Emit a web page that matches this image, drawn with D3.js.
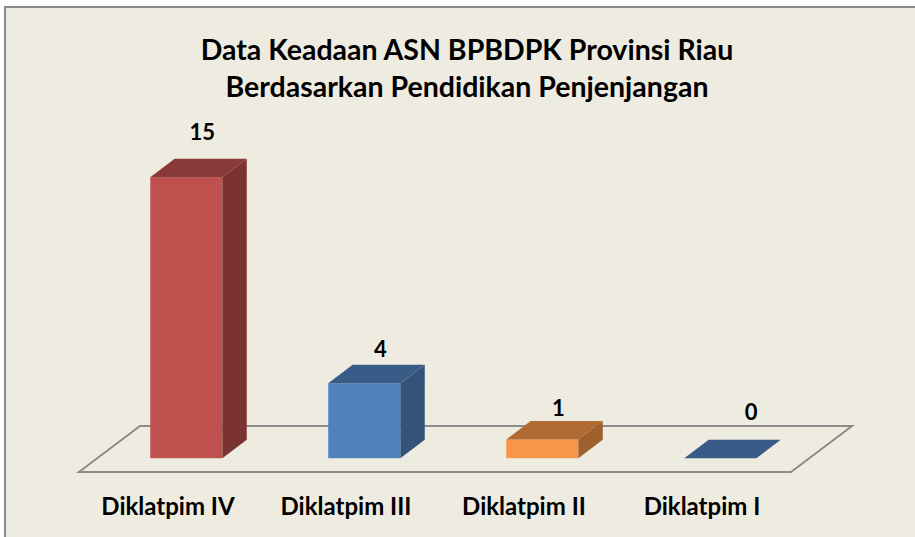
<!DOCTYPE html>
<html>
<head>
<meta charset="utf-8">
<script src="https://cdn.jsdelivr.net/npm/d3@7"></script>
<style>
  body{margin:0;background:#fff;}
  svg{display:block;}
</style>
</head>
<body>
<svg></svg>
<script>
// data
var categories=["Diklatpim IV","Diklatpim III","Diklatpim II","Diklatpim I"];
var values=[15,4,1,0];
var fronts=["#C0504D","#4F81BD","#F79646","#4F81BD"];
var titleLines=["Data Keadaan ASN BPBDPK Provinsi Riau","Berdasarkan Pendidikan Penjenjangan"];

var screen={width:915,height:537};
var svg=d3.select("svg")
          .attr("width",screen.width)
          .attr("height",screen.height)
var font="Lato, 'Open Sans', sans-serif";

// chart area
svg.append("rect")
   .attr("x",5).attr("y",7)
   .attr("width",screen.width+10).attr("height",screen.height+10)
   .attr("fill","#EEEBE0")
   .attr("stroke","#8a8a8a")
   .attr("stroke-width",2)

// floor geometry (front edge + depth vector)
var floor={left:79,right:791,front:472,dx:61,dy:-46}
var dFront=0.3, dBack=0.7;   // where the bars sit inside the floor depth

var xScale=d3.scaleBand()
             .domain(categories)
             .range([floor.left,floor.right])
             .paddingInner(0.595)
             .paddingOuter(0.2975)
var yScale=d3.scaleLinear()
             .domain([0,15])
             .range([0,281])
var labelScale=d3.scaleLinear()
             .domain([0,15])
             .range([436,140])

var fl=floor;
var floorPts=[[fl.left,fl.front],[fl.right,fl.front],[fl.right+fl.dx,fl.front+fl.dy],[fl.left+fl.dx,fl.front+fl.dy]]
svg.append("polygon")
   .attr("points",floorPts.map(function(p){return p.join(",")}).join(" "))
   .attr("fill","none")
   .attr("stroke","#8c8c8c")
   .attr("stroke-width",2)

var bdx=fl.dx*(dBack-dFront), bdy=fl.dy*(dBack-dFront);
var baseY=fl.front+fl.dy*dFront;

var bars=svg.append("g").selectAll("g")
            .data(values)
            .enter()
            .append("g")

bars.each(function(d,i){
  var g=d3.select(this);
  var x0=xScale(categories[i])+fl.dx*dFront;
  var w=xScale.bandwidth();
  var h=yScale(d);
  var top=baseY-h;
  var c=d3.color(fronts[i]);
  var pts=function(a){return a.map(function(p){return p.join(",")}).join(" ")}
  if(h>0){
    g.append("rect")
     .attr("x",x0).attr("y",top)
     .attr("width",w).attr("height",h)
     .attr("fill",c.formatHex())
    g.append("polygon")
     .attr("points",pts([[x0+w,top],[x0+w+bdx,top+bdy],[x0+w+bdx,baseY+bdy],[x0+w,baseY]]))
     .attr("fill",c.darker(1.25).formatHex())
  }
  g.append("polygon")
   .attr("points",pts([[x0,top],[x0+bdx,top+bdy],[x0+w+bdx,top+bdy],[x0+w,top]]))
   .attr("fill",c.darker(0.95).formatHex())

  // value label
  var ly=labelScale(d);
  var lx=x0+w/2+16;
  var maxY=fl.front+fl.dy-6;
  if(ly>maxY){ lx+=(ly-maxY)*fl.dx/-fl.dy*0.7; ly=maxY; }
  svg.append("text")
     .attr("x",lx).attr("y",ly)
     .attr("text-anchor","middle")
     .attr("font-family",font)
     .attr("font-weight","bold")
     .attr("font-size",22)
     .attr("fill","#000")
     .text(d)
})

// category labels
svg.append("g").selectAll("text")
   .data(categories)
   .enter()
   .append("text")
   .attr("x",function(d){return xScale(d)+xScale.bandwidth()/2})
   .attr("y",515)
   .attr("text-anchor","middle")
   .attr("font-family",font)
   .attr("font-weight","bold")
   .attr("font-size",24)
   .attr("fill","#000")
   .text(function(d){return d})

// title
svg.append("g").selectAll("text")
   .data(titleLines)
   .enter()
   .append("text")
   .attr("x",467)
   .attr("y",function(d,i){return 60+i*37})
   .attr("text-anchor","middle")
   .attr("font-family",font)
   .attr("font-weight","bold")
   .attr("font-size",28.5)
   .attr("fill","#000")
   .text(function(d){return d})
</script>
</body>
</html>
